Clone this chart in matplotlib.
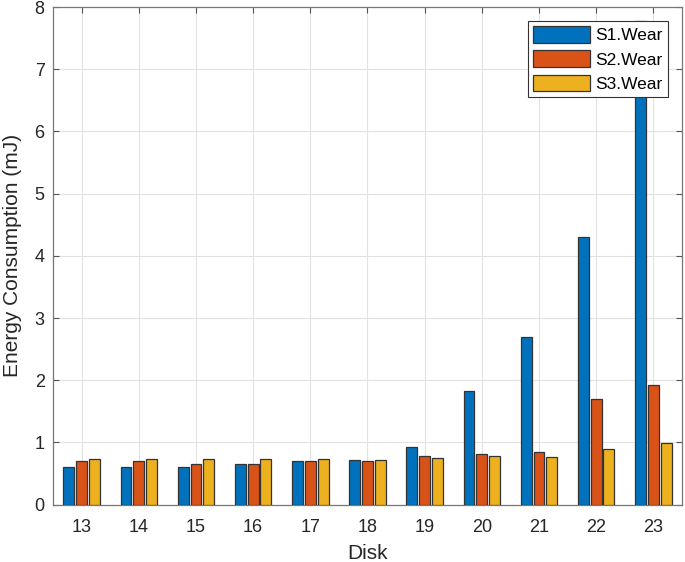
import matplotlib
matplotlib.use("Agg")
import matplotlib.pyplot as plt
import numpy as np

disks = [13, 14, 15, 16, 17, 18, 19, 20, 21, 22, 23]
s1_wear = [0.61, 0.61, 0.61, 0.65, 0.71, 0.72, 0.93, 1.83, 2.70, 4.31, 7.78]
s2_wear = [0.70, 0.70, 0.65, 0.65, 0.70, 0.71, 0.79, 0.81, 0.84, 1.70, 1.92]
s3_wear = [0.74, 0.74, 0.74, 0.74, 0.73, 0.72, 0.75, 0.78, 0.77, 0.89, 0.99]
series_names = ["S1.Wear", "S2.Wear", "S3.Wear"]

plt.rcParams['font.family'] = ['Liberation Sans', 'DejaVu Sans']

fig = plt.figure(figsize=(6.85, 5.62), dpi=100)
ax = fig.add_axes([0.0774, 0.102, 0.918, 0.8855])

colors = ["#0072BD", "#D95319", "#EDB120"]
x = np.array(disks, dtype=float)
offset = 0.224
width = 0.19
for i, (vals, name, c) in enumerate(zip([s1_wear, s2_wear, s3_wear], series_names, colors)):
    ax.bar(x + (i - 1) * offset, vals, width=width, color=c, edgecolor="#333333",
           linewidth=0.9, label=name, zorder=3)

ax.set_xlim(12.5, 23.5)
ax.set_ylim(0, 8)
ax.set_xticks(disks)
ax.set_yticks(range(0, 9))
ax.grid(True, color="#e2e2e2", linewidth=0.8, zorder=0)
ax.set_axisbelow(True)
ax.tick_params(direction="in", top=True, right=True, length=4, width=0.8,
               colors="#555555", labelcolor="#262626", labelsize=13)
ax.tick_params(axis="x", pad=10.5)
ax.tick_params(axis="y", pad=6)
for s in ax.spines.values():
    s.set_color("#777777")
    s.set_linewidth(0.9)

ax.set_xlabel("Disk", fontsize=15, color="#262626", labelpad=5.5)
ax.set_ylabel("Energy Consumption (mJ)", fontsize=15, color="#262626", labelpad=9)

leg = ax.legend(loc="upper right", bbox_to_anchor=(0.978, 0.972), fontsize=12.5,
                frameon=True, fancybox=False, edgecolor="#333333", framealpha=1,
                handlelength=3.3, handleheight=1.1, borderpad=0.3, labelspacing=0.4,
                handletextpad=0.3, borderaxespad=0)
leg.get_frame().set_linewidth(0.8)

fig.savefig("out.png", dpi=100)
